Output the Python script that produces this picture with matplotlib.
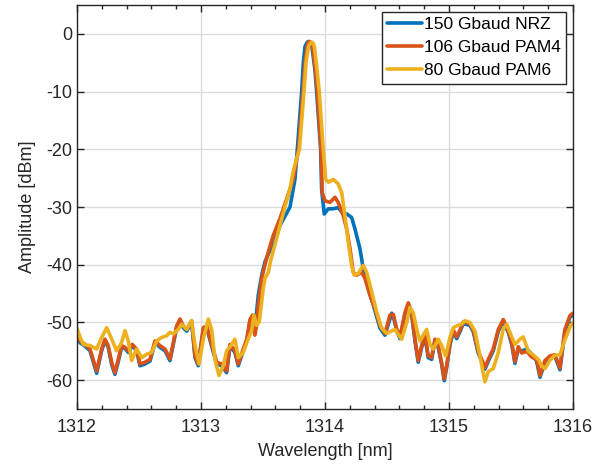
import matplotlib
matplotlib.use("Agg")
import matplotlib.pyplot as plt
from matplotlib.ticker import MultipleLocator

plt.rcParams['font.family'] = ['Liberation Sans', 'DejaVu Sans']

# ---------------- data ----------------
wl_pam4 = [1312.000, 1312.024, 1312.065, 1312.105, 1312.131, 1312.159, 1312.199, 1312.226,
           1312.252, 1312.280, 1312.306, 1312.333, 1312.360, 1312.387, 1312.414, 1312.446,
           1312.481, 1312.508, 1312.548, 1312.589, 1312.629, 1312.669, 1312.710, 1312.750,
           1312.777, 1312.804, 1312.831, 1312.857, 1312.885, 1312.925, 1312.952, 1312.978,
           1313.019, 1313.046, 1313.086, 1313.127, 1313.167, 1313.207, 1313.234, 1313.274,
           1313.301, 1313.341, 1313.369, 1313.395, 1313.417, 1313.435, 1313.449, 1313.462,
           1313.490, 1313.516, 1313.543, 1313.583, 1313.637, 1313.691, 1313.744, 1313.786,
           1313.823, 1313.839, 1313.855, 1313.865, 1313.875, 1313.887, 1313.899, 1313.923,
           1313.938, 1313.968,
           1313.978, 1314.000, 1314.040, 1314.081, 1314.107, 1314.148, 1314.175, 1314.202,
           1314.228, 1314.256, 1314.296, 1314.323, 1314.363, 1314.403, 1314.444, 1314.484,
           1314.524, 1314.551, 1314.578, 1314.605, 1314.645, 1314.672, 1314.699, 1314.726,
           1314.752, 1314.780, 1314.806, 1314.833, 1314.860, 1314.887, 1314.914, 1314.941,
           1314.962, 1314.981, 1315.008, 1315.035, 1315.062, 1315.089, 1315.115, 1315.169,
           1315.196, 1315.236, 1315.264, 1315.290, 1315.317, 1315.357, 1315.398, 1315.438,
           1315.478, 1315.506, 1315.532, 1315.559, 1315.586, 1315.627, 1315.667, 1315.707,
           1315.734, 1315.774, 1315.815, 1315.855, 1315.895, 1315.935, 1315.976, 1316.000]
amp_pam4 = [-51.8, -53.2, -53.8, -54.6, -56.4, -58.4, -54.6, -52.9,
            -54.0, -56.9, -58.7, -56.4, -54.0, -54.3, -54.9, -53.8,
            -54.6, -57.2, -56.9, -56.4, -53.2, -54.0, -54.6, -56.3,
            -53.5, -50.6, -49.4, -50.6, -51.2, -49.7, -55.8, -57.2,
            -50.9, -50.6, -53.8, -56.9, -57.2, -58.4, -53.8, -54.9,
            -57.2, -54.6, -52.9, -49.5, -48.7, -52.2, -50.5, -47.0,
            -42.4, -40.0, -37.8, -34.9, -32.0, -28.6, -25.2, -20.0,
            -10.0, -5.0, -2.2, -1.5, -1.3, -1.5, -2.0, -6.2,
            -10.0, -20.0,
            -27.5, -28.9, -29.2, -28.3, -29.2, -31.5, -33.8, -37.2,
            -41.3, -41.8, -41.3, -42.4, -45.3, -47.6, -50.5, -51.9,
            -48.7, -48.6, -51.1, -52.5, -48.3, -46.6, -48.3, -52.9,
            -56.6, -54.0, -52.1, -55.8, -56.1, -52.9, -54.1, -57.0,
            -59.8, -57.5, -53.6, -51.3, -52.5, -51.3, -49.9, -50.2,
            -51.3, -55.0, -56.4, -57.8, -56.4, -54.6, -51.2, -49.5,
            -51.4, -53.5, -56.8, -54.2, -55.3, -55.0, -56.0, -56.4,
            -59.2, -56.6, -55.8, -55.6, -57.9, -51.2, -48.8, -48.4]

wl_nrz = [1312.000, 1312.024, 1312.065, 1312.105, 1312.131, 1312.159, 1312.199, 1312.226,
          1312.252, 1312.280, 1312.306, 1312.333, 1312.360, 1312.387, 1312.414, 1312.446,
          1312.481, 1312.508, 1312.548, 1312.589, 1312.629, 1312.669, 1312.710, 1312.750,
          1312.777, 1312.804, 1312.831, 1312.857, 1312.885, 1312.925, 1312.952, 1312.978,
          1313.019, 1313.046, 1313.086, 1313.127, 1313.167, 1313.207, 1313.234, 1313.274,
          1313.301, 1313.341, 1313.369, 1313.395, 1313.417, 1313.435, 1313.449, 1313.462,
          1313.490, 1313.516, 1313.556, 1313.583, 1313.637, 1313.718, 1313.758, 1313.777,
          1313.812, 1313.825, 1313.839, 1313.852, 1313.865, 1313.879, 1313.893, 1313.919,
          1313.933, 1313.965,
          1313.973, 1313.994, 1314.027, 1314.065, 1314.107, 1314.148, 1314.177, 1314.215,
          1314.242, 1314.282, 1314.309, 1314.349, 1314.390, 1314.444, 1314.484, 1314.538,
          1314.551, 1314.578, 1314.605, 1314.645, 1314.672, 1314.699, 1314.726,
          1314.752, 1314.780, 1314.806, 1314.833, 1314.860, 1314.887, 1314.914, 1314.941,
          1314.962, 1314.981, 1315.008, 1315.035, 1315.062, 1315.089, 1315.115, 1315.169,
          1315.196, 1315.236, 1315.264, 1315.290, 1315.317, 1315.357, 1315.398, 1315.438,
          1315.478, 1315.506, 1315.532, 1315.559, 1315.586, 1315.627, 1315.667, 1315.707,
          1315.734, 1315.774, 1315.815, 1315.855, 1315.895, 1315.935, 1315.976, 1316.000]
amp_nrz = [-52.2, -53.5, -54.1, -54.9, -56.8, -58.8, -54.9, -53.1,
           -54.3, -57.3, -59.0, -56.8, -54.3, -54.5, -55.2, -54.0,
           -54.9, -57.5, -57.2, -56.7, -53.5, -54.3, -54.9, -56.6,
           -53.8, -50.8, -49.6, -50.9, -51.5, -50.0, -56.1, -57.5,
           -51.2, -50.9, -54.1, -57.2, -57.5, -58.7, -54.1, -55.2,
           -57.5, -54.9, -53.2, -50.0, -49.0, -51.5, -48.1, -45.3,
           -41.8, -39.5, -37.5, -36.7, -33.2, -30.0, -25.2, -20.0,
           -10.0, -5.1, -2.2, -1.6, -1.3, -1.4, -1.9, -6.2,
           -10.0, -20.0,
           -26.9, -31.2, -30.3, -30.3, -30.1, -31.2, -31.2, -31.8,
           -33.8, -37.2, -40.7, -44.1, -47.0, -51.0, -52.2, -48.4,
           -48.9, -51.4, -52.8, -48.6, -46.9, -48.6, -53.2,
           -56.9, -54.3, -52.4, -56.1, -56.4, -53.2, -54.4, -57.3,
           -60.1, -57.8, -53.9, -51.6, -52.8, -51.6, -50.2, -50.5,
           -51.6, -55.3, -56.7, -58.1, -56.7, -54.9, -51.5, -49.8,
           -51.7, -53.8, -57.1, -54.5, -55.0, -54.6, -55.5, -56.7,
           -59.5, -56.9, -56.1, -55.9, -58.2, -51.5, -49.1, -48.7]

wl_pam6 = [1312.000, 1312.024, 1312.051, 1312.105, 1312.159, 1312.199, 1312.240, 1312.280,
           1312.320, 1312.360, 1312.387, 1312.414, 1312.441, 1312.481, 1312.522, 1312.562,
           1312.602, 1312.643, 1312.683, 1312.723, 1312.750, 1312.777, 1312.817, 1312.844,
           1312.885, 1312.925, 1312.952, 1312.984, 1313.019, 1313.059, 1313.086, 1313.113,
           1313.145, 1313.180, 1313.207, 1313.248, 1313.274, 1313.301, 1313.341, 1313.369,
           1313.409, 1313.427, 1313.448, 1313.470, 1313.492, 1313.502, 1313.516, 1313.543,
           1313.565, 1313.597, 1313.637, 1313.677, 1313.718, 1313.742, 1313.766, 1313.794,
           1313.831, 1313.847, 1313.867, 1313.880, 1313.893, 1313.905, 1313.915, 1313.935,
           1313.954, 1313.986,
           1314.006, 1314.027, 1314.067, 1314.107, 1314.135, 1314.161, 1314.188, 1314.215,
           1314.236, 1314.269, 1314.309, 1314.336, 1314.377, 1314.417, 1314.457, 1314.498,
           1314.524, 1314.565, 1314.589, 1314.619, 1314.659, 1314.685, 1314.712, 1314.740,
           1314.766, 1314.790, 1314.820, 1314.847, 1314.873, 1314.914, 1314.941, 1314.973,
           1315.008, 1315.035, 1315.062, 1315.102, 1315.129, 1315.169, 1315.210, 1315.250,
           1315.290, 1315.317, 1315.357, 1315.398, 1315.438, 1315.465, 1315.506, 1315.532,
           1315.573, 1315.599, 1315.640, 1315.677, 1315.720, 1315.747, 1315.774, 1315.815,
           1315.855, 1315.895, 1315.935, 1315.976, 1316.000]
amp_pam6 = [-51.0, -52.5, -53.8, -54.0, -54.6, -52.6, -50.9, -52.9,
            -54.9, -53.5, -51.4, -53.2, -56.6, -54.6, -56.1, -55.5,
            -55.2, -53.2, -52.6, -52.3, -51.7, -52.0, -51.2, -50.3,
            -51.2, -49.7, -54.0, -57.2, -52.9, -49.4, -51.2, -56.4,
            -59.2, -57.5, -54.9, -53.8, -52.9, -56.1, -55.2, -53.5,
            -51.4, -48.7, -50.5, -49.9, -46.0, -44.1, -42.4, -41.3,
            -39.0, -36.5, -33.2, -30.0, -26.9, -24.0, -22.0, -20.0,
            -10.0, -5.0, -2.2, -1.6, -1.4, -1.6, -2.2, -6.0,
            -10.0, -20.0,
            -25.2, -25.7, -25.2, -26.0, -27.5, -31.5, -36.1, -40.1,
            -41.8, -41.5, -40.1, -41.3, -44.7, -48.2, -51.0, -51.9,
            -51.6, -51.2, -52.0, -52.9, -50.0, -47.4, -48.3, -51.2,
            -53.2, -52.3, -51.2, -53.8, -54.6, -52.9, -54.0, -55.8,
            -52.6, -50.9, -50.6, -50.3, -49.7, -50.0, -51.5, -55.8,
            -60.3, -58.5, -58.0, -55.2, -51.1, -50.3, -52.5, -53.8,
            -52.9, -52.5, -55.0, -55.6, -56.4, -57.5, -58.0, -56.5,
            -55.7, -55.6, -53.0, -50.8, -50.0]

labels = ["150 Gbaud NRZ", "106 Gbaud PAM4", "80 Gbaud PAM6"]
colors = ["#0072BD", "#D95319", "#EDB120"]

x_ticks = [1312, 1313, 1314, 1315, 1316]
y_ticks = [0, -10, -20, -30, -40, -50, -60]

# ---------------- figure ----------------
fig = plt.figure(figsize=(6.06, 4.65), dpi=100)
ax = fig.add_axes([0.127, 0.1204, 0.8185, 0.8686])

series = [(wl_nrz, amp_nrz), (wl_pam4, amp_pam4), (wl_pam6, amp_pam6)]
for (wl, amp), lab, col in zip(series, labels, colors):
    ax.plot(wl, amp, color=col, lw=2.6, label=lab,
            solid_joinstyle='round', solid_capstyle='round')

ax.set_xlim(1312, 1316)
ax.set_ylim(-65, 5)
ax.set_xticks(x_ticks)
ax.set_yticks(y_ticks)
ax.set_xticklabels([str(v) for v in x_ticks])
ax.set_yticklabels([str(v) for v in y_ticks])
ax.xaxis.set_minor_locator(MultipleLocator(0.2))

ax.grid(True, which='major', color='#dcdcdc', lw=1.0)
ax.set_axisbelow(True)
ax.tick_params(which='both', direction='in', top=True, right=True,
               labelsize=13, colors='#262626')
ax.tick_params(axis='x', which='major', pad=7)
ax.tick_params(which='major', length=5, width=1.0)
ax.tick_params(which='minor', length=3, width=1.0)
for s in ax.spines.values():
    s.set_color('#262626')
    s.set_linewidth(1.0)

ax.set_xlabel("Wavelength [nm]", fontsize=13, color='#262626', labelpad=5)
ax.set_ylabel("Amplitude [dBm]", fontsize=13, color='#262626', labelpad=7)

leg = ax.legend(loc='upper right', fontsize=12.5, frameon=True, fancybox=False,
                edgecolor='#262626', framealpha=1, borderpad=0.3,
                handlelength=2.0, handletextpad=0.1, labelspacing=0.45,
                borderaxespad=0.4)
leg.get_frame().set_linewidth(1.0)

fig.savefig("out.png", dpi=100)
